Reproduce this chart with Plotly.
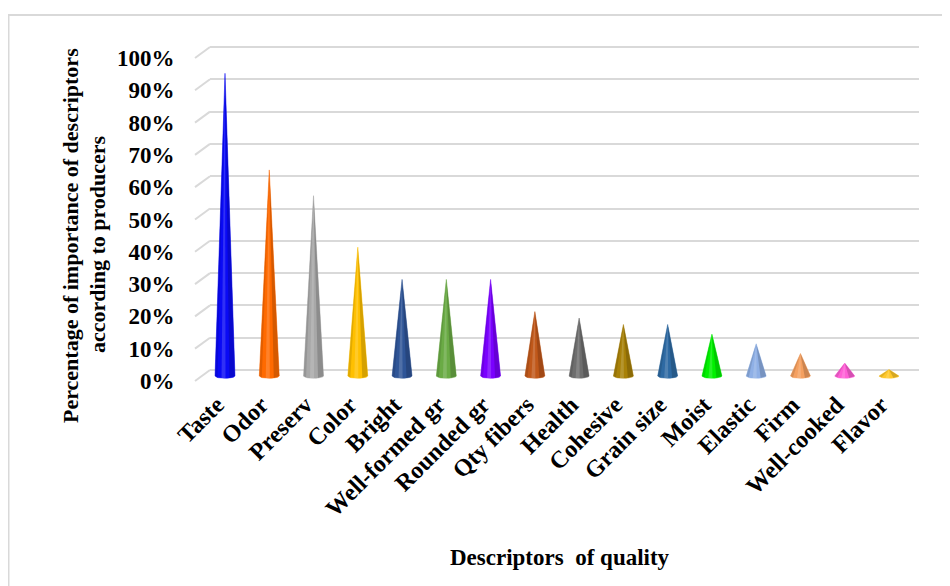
import numpy as np
import plotly.graph_objects as go

# ---------------- data ----------------
categories = ["Taste", "Odor", "Preserv", "Color", "Bright", "Well-formed gr",
              "Rounded gr", "Qty fibers", "Health", "Cohesive", "Grain size",
              "Moist", "Elastic", "Firm", "Well-cooked", "Flavor"]
values = [94, 64, 56, 40, 30, 30, 30, 20, 18, 16, 16, 13, 10, 7, 4, 2]
cone_colors = ["#0a0af5", "#ff6a00", "#a8a8a8", "#ffc000", "#2f5597", "#6aab45",
               "#7a00ff", "#c0581a", "#6e6e6e", "#a88108", "#2e6aa3", "#00f000",
               "#8fb0e6", "#f5a060", "#ff5fd6", "#ffc82a"]
y_ticks = [0, 10, 20, 30, 40, 50, 60, 70, 80, 90, 100]
y_tick_labels = [f"{t}%" for t in y_ticks]

x_title = "Descriptors  of quality"
y_title_lines = ["Percentage of importance of descriptors", "according to producers"]

FONT = "Liberation Serif"
GRID = "#d9d9d9"
OFF = 8  # the page body has an 8px margin; compensate so the chart lands on target pixels


def shade(hex_color, f):
    h = hex_color.lstrip("#")
    r, g, b = (int(h[k:k + 2], 16) for k in (0, 2, 4))
    if f < 0:
        r, g, b = (int(c * (1 + f)) for c in (r, g, b))
    else:
        r, g, b = (int(c + (255 - c) * f) for c in (r, g, b))
    return f"rgb({r},{g},{b})"


fig = go.Figure()

hw = 0.225      # cone half-width (category units)
ell = 0.7       # base ellipse half-height (value units)
t = np.linspace(0, np.pi, 20)

for i, (cat, v, col) in enumerate(zip(categories, values, cone_colors)):
    ex = i + hw * np.cos(t)
    ey = -ell * np.sin(t)
    xs = [i - hw, i, i + hw] + list(ex) + [i - hw]
    ys = [0, v, 0] + list(ey) + [0]
    fig.add_trace(go.Scatter(x=xs, y=ys, yaxis="y2", mode="lines", fill="toself",
                             fillcolor=col, line=dict(color=col, width=0.5),
                             hoverinfo="skip", showlegend=False))
    # darker right side
    tr = np.linspace(0, np.pi * 0.35, 8)
    xr = [i + 0.45 * hw, i] + [i + hw] + list(i + hw * np.cos(tr[::-1]))[1:]
    yr = [0 - ell * np.sin(np.arccos(0.45)), v] + [0] + list(-ell * np.sin(tr[::-1]))[1:]
    fig.add_trace(go.Scatter(x=xr, y=yr, yaxis="y2", mode="lines", fill="toself",
                             fillcolor=shade(col, -0.3), line=dict(width=0),
                             opacity=0.55, hoverinfo="skip", showlegend=False))
    # darker left edge
    fig.add_trace(go.Scatter(x=[i - hw, i, i - 0.75 * hw, i - hw], y=[0, v, -ell * 0.66, 0],
                             yaxis="y2", mode="lines", fill="toself",
                             fillcolor=shade(col, -0.25), line=dict(width=0),
                             opacity=0.45, hoverinfo="skip", showlegend=False))
    # highlight
    fig.add_trace(go.Scatter(x=[i - 0.35 * hw, i, i + 0.05 * hw, i - 0.35 * hw],
                             y=[-ell * 0.94, v, -ell, -ell * 0.94],
                             yaxis="y2", mode="lines", fill="toself",
                             fillcolor=shade(col, 0.35), line=dict(width=0),
                             opacity=0.45, hoverinfo="skip", showlegend=False))

# plot-area geometry (target px): x 210..919, y 40..385
PL, PR, PT, PB = 210, 919, 40, 385
PW, PH = PR - PL, PB - PT

shapes = []
for v in y_ticks:
    shapes.append(dict(type="line", xref="paper", yref="y",
                       x0=-15 / PW, x1=0, y0=v - 3.4, y1=v,
                       line=dict(color=GRID, width=2)))
shapes.append(dict(type="rect", xref="paper", yref="paper",
                   x0=(8.5 - PL) / PW, x1=(990 - PL) / PW,
                   y0=(PB - 640) / PH, y1=(PB - 15) / PH,
                   line=dict(color=GRID, width=2), fillcolor="rgba(0,0,0,0)",
                   layer="below"))

annotations = [
    dict(text=f"<b>{x_title}</b>", xref="paper", yref="paper",
         x=(560 - PL) / PW, y=(PB - 557) / PH, showarrow=False,
         xanchor="center", yanchor="middle",
         font=dict(family=FONT, size=23, color="#000000")),
]
for line_text, px, py in zip(y_title_lines, [70, 98], [236, 244]):
    annotations.append(dict(text=f"<b>{line_text}</b>", xref="paper", yref="paper",
                            x=(px - PL) / PW, y=(PB - py) / PH, showarrow=False,
                            textangle=-90, xanchor="center", yanchor="middle",
                            font=dict(family=FONT, size=22, color="#000000")))

fig.update_layout(
    width=950, height=586,
    margin=dict(l=PL - OFF, r=950 - PR + OFF, t=PT - OFF, b=586 - PB + OFF,
                autoexpand=False),
    paper_bgcolor="white", plot_bgcolor="white",
    showlegend=False,
    xaxis=dict(range=[-15 / 44.27, 15 + (PR - 889) / 44.27],
               tickmode="array", tickvals=list(range(len(categories))),
               ticktext=categories, tickangle=-45,
               tickfont=dict(family=FONT, size=24, color="#000000", weight="bold"),
               showgrid=False, zeroline=False, showline=False,
               ticks="", ticklabelshift=-8,
               automargin=False, fixedrange=True),
    yaxis=dict(range=[-15 / 3.23, (370 - PT) / 3.23],
               tickmode="array", tickvals=y_ticks, ticktext=y_tick_labels,
               tickfont=dict(family=FONT, size=23, color="#000000", weight="bold"),
               showgrid=True, gridcolor=GRID, gridwidth=2,
               zeroline=False, showline=False,
               ticks="outside", ticklen=30, tickcolor="rgba(0,0,0,0)",
               ticklabelshift=11,
               automargin=False, fixedrange=True),
    yaxis2=dict(range=[-(PB - 376) / 3.22, (376 - PT) / 3.22],
                overlaying="y", side="left", showticklabels=False,
                showgrid=False, zeroline=False, showline=False,
                fixedrange=True),
    shapes=shapes,
    annotations=annotations,
)

fig.write_html("out.html")
